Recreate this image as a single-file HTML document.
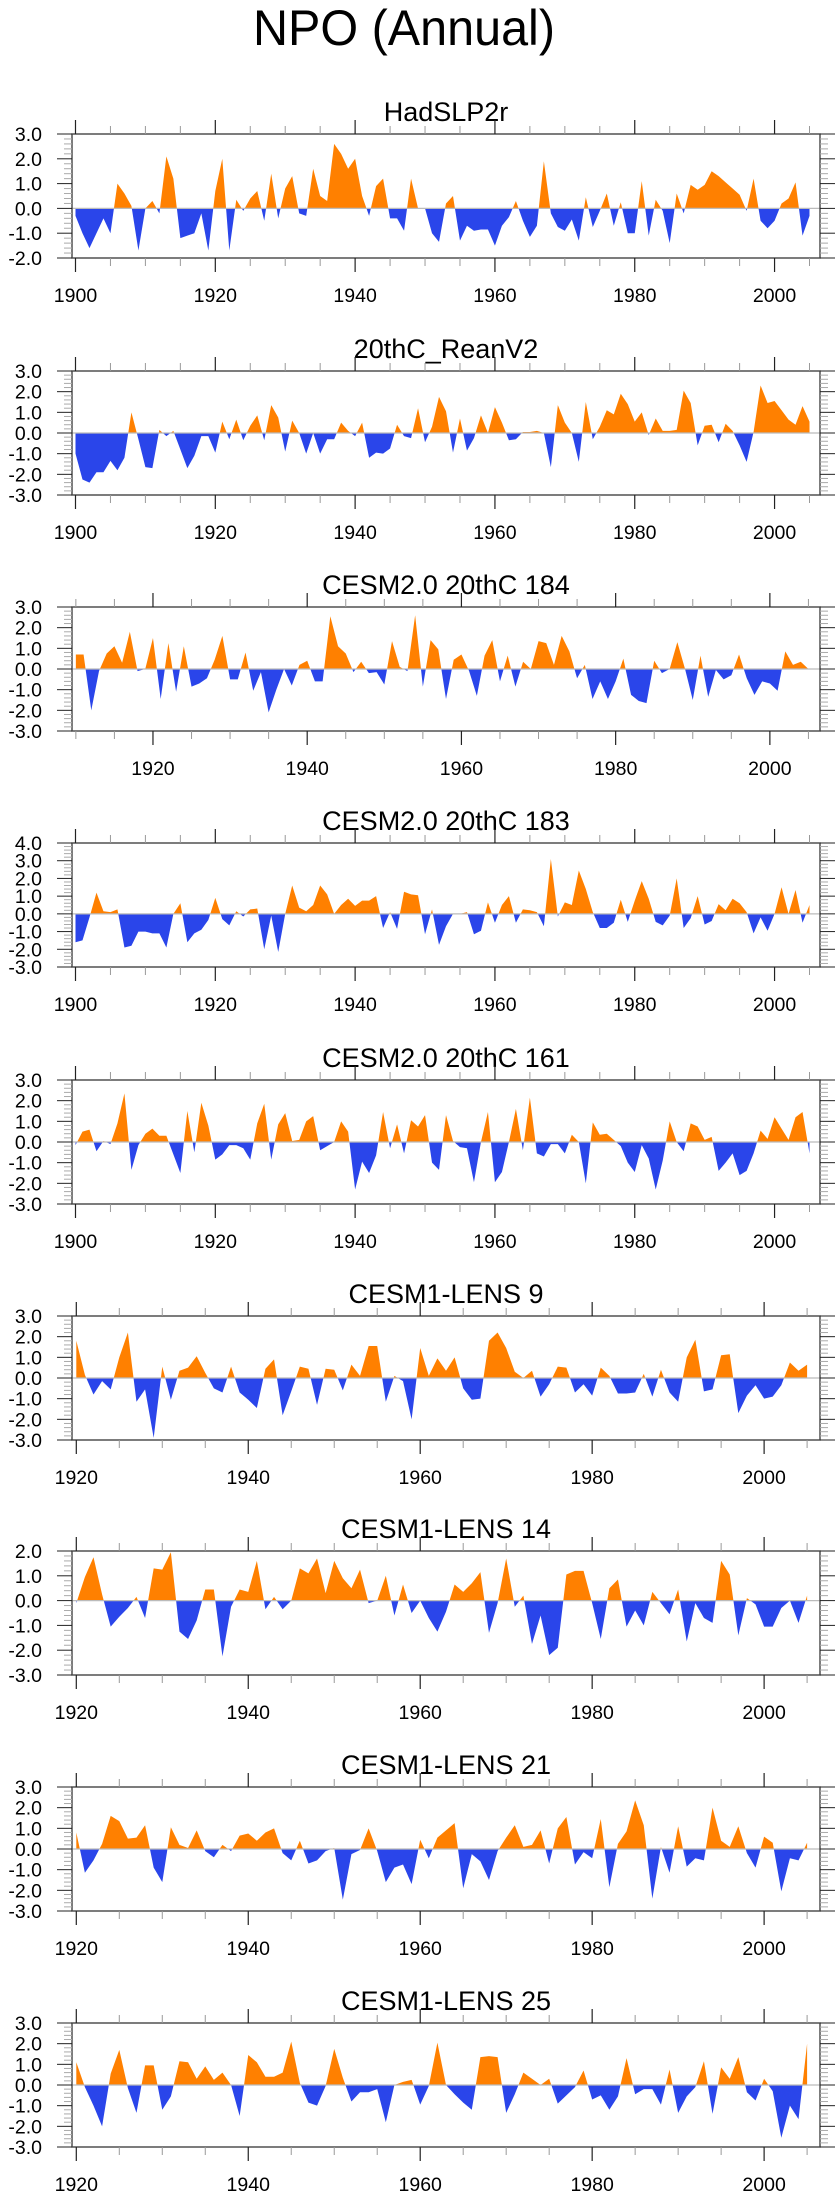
<!DOCTYPE html>
<html><head><meta charset="utf-8"><title>NPO (Annual)</title>
<style>html,body{margin:0;padding:0;background:#fff;}svg{display:block;font-family:"Liberation Sans",Arial,sans-serif;}</style>
</head><body>
<svg id="chart" width="840" height="2200" viewBox="0 0 840 2200" xmlns="http://www.w3.org/2000/svg">
<rect x="0" y="0" width="840" height="2200" fill="#fff"/>
<text x="404" y="45" font-size="50" text-anchor="middle" textLength="302" lengthAdjust="spacingAndGlyphs">NPO (Annual)</text>
</svg>
<script>
const titles = ["HadSLP2r","20thC_ReanV2","CESM2.0 20thC 184","CESM2.0 20thC 183","CESM2.0 20thC 161","CESM1-LENS 9","CESM1-LENS 14","CESM1-LENS 21","CESM1-LENS 25"];
const startYears = [1900,1900,1910,1900,1900,1920,1920,1920,1920];
const yMins = [-2,-3,-3,-3,-3,-3,-3,-3,-3];
const yMaxs = [3,3,3,4,3,3,2,3,3];
const xTickYears = [1900,1920,1940,1960,1980,2000];
const s1 = [-0.3,-1.0,-1.6,-1.0,-0.4,-1.0,1.0,0.6,0.1,-1.7, 0.0,0.3,-0.2,2.1,1.2,-1.2,-1.1,-1.0,-0.2,-1.7, 0.7,2.0,-1.7,0.35,-0.1,0.4,0.7,-0.5,1.4,-0.4, 0.8,1.3,-0.2,-0.3,1.6,0.5,0.3,2.6,2.2,1.6, 2.0,0.5,-0.3,0.9,1.2,-0.4,-0.4,-0.9,1.2,0.0, 0.0,-1.0,-1.35,0.2,0.5,-1.3,-0.7,-0.9,-0.85,-0.85, -1.5,-0.7,-0.35,0.3,-0.5,-1.15,-0.7,1.9,-0.2,-0.75, -0.9,-0.45,-1.3,0.45,-0.75,-0.1,0.6,-0.7,0.25,-1.0, -1.0,1.1,-1.1,0.35,-0.1,-1.4,0.6,-0.2,0.95,0.75, 0.95,1.5,1.3,1.05,0.8,0.55,-0.1,1.2,-0.5,-0.8, -0.5,0.2,0.4,1.05,-1.1,-0.3];
const s2 = [-1.0,-2.25,-2.4,-1.9,-1.9,-1.35,-1.8,-1.2,1.0,-0.3, -1.65,-1.7,0.15,-0.15,0.1,-0.8,-1.7,-1.1,-0.15,-0.15, -0.95,0.55,-0.3,0.65,-0.35,0.35,0.85,-0.35,1.35,0.75, -0.9,0.6,0,-1.0,0,-1.0,-0.3,-0.3,0.5,0.1, -0.15,0.5,-1.2,-0.95,-1.0,-0.75,0.4,-0.15,-0.25,1.2, -0.45,0.3,1.75,1.05,-0.95,0.7,-0.85,-0.25,0.85,0, 1.25,0.5,-0.35,-0.3,0.05,0.05,0.1,0,-1.65,1.35, 0.5,0,-1.4,1.5,-0.3,0.3,1.1,0.9,1.9,1.4, 0.55,1.0,-0.1,0.7,0.1,0.1,0.15,2.05,1.45,-0.6, 0.35,0.4,-0.45,0.45,0.1,-0.6,-1.4,0.05,2.3,1.45, 1.55,1.1,0.65,0.4,1.3,0.55];
const s3 = [0.7,0.7,-2.0,-0.1,0.75,1.1,0.3,1.8,-0.1,0, 1.5,-1.45,1.25,-1.1,1.1,-0.85,-0.7,-0.45,0.45,1.6, -0.5,-0.5,0.8,-1.05,-0.15,-2.1,-1.0,0,-0.8,0.2, 0.4,-0.6,-0.6,2.55,1.1,0.75,-0.15,0.35,-0.2,-0.15, -0.75,1.35,0.1,-0.1,2.6,-0.85,1.4,0.95,-1.45,0.45, 0.7,-0.1,-1.3,0.65,1.4,-0.6,0.65,-0.85,0.35,0, 1.35,1.25,0.2,1.6,0.85,-0.45,0.2,-1.45,-0.6,-1.45, -0.6,0.5,-1.25,-1.55,-1.65,0.4,-0.2,0,1.3,0, -1.5,0.65,-1.35,-0.05,-0.5,-0.3,0.7,-0.45,-1.25,-0.6, -0.7,-1.05,0.85,0.2,0.35,0];
const s4 = [-1.6,-1.5,-0.2,1.2,0.15,0.1,0.25,-1.9,-1.8,-1.0, -1.0,-1.1,-1.1,-1.9,0,0.6,-1.6,-1.1,-0.9,-0.35, 0.9,-0.3,-0.65,0.15,-0.15,0.25,0.3,-2.0,-0.1,-2.15, 0,1.6,0.35,0.15,0.5,1.6,1.1,0,0.5,0.85, 0.45,0.75,0.75,1.0,-0.8,0.1,-0.85,1.25,1.1,1.05, -1.15,0.25,-1.75,-0.7,0,0,0.1,-1.15,-0.95,0.65, -0.5,0.5,1.0,-0.5,0.25,0.2,0.1,-0.7,3.1,-0.15, 0.65,0.5,2.45,1.4,0.1,-0.8,-0.8,-0.5,0.8,-0.45, 0.75,1.85,0.85,-0.45,-0.65,-0.1,2.0,-0.8,-0.25,1.0, -0.6,-0.4,0.55,0.2,0.85,0.6,0.1,-1.1,-0.2,-0.95, 0,1.5,0,1.35,-0.5,0.5];
const s5 = [-0.15,0.5,0.6,-0.45,0.05,-0.1,0.9,2.35,-1.35,-0.15, 0.4,0.65,0.3,0.3,-0.6,-1.5,1.5,-0.5,1.9,0.8, -0.85,-0.6,-0.15,-0.15,-0.3,-0.85,0.9,1.85,-0.85,0.85, 1.4,0.05,0.1,1.0,1.25,-0.4,-0.2,0,1.0,0.5, -2.3,-0.95,-1.5,-0.65,1.45,-0.3,0.85,-0.55,1.05,0.75, 1.3,-1.0,-1.35,1.3,0.05,-0.25,-0.3,-1.95,0,1.45, -1.95,-1.45,0,1.6,-0.4,2.15,-0.55,-0.7,-0.1,-0.1, -0.55,0.35,0,-2.0,0.95,0.35,0.4,0.1,-0.2,-1.0, -1.45,-0.15,-0.8,-2.3,-0.9,1.0,0,-0.45,0.9,0.75, 0.1,0.25,-1.4,-1.0,-0.55,-1.6,-1.4,-0.55,0.55,0.15, 1.2,0.65,0.1,1.2,1.45,-0.55];
const s6 = [1.8,0.15,-0.8,-0.15,-0.55,1.0,2.2,-1.15,-0.55,-2.9, 0.55,-1.05,0.35,0.5,1.05,0.25,-0.5,-0.7,0.55,-0.7, -1.05,-1.45,0.45,0.9,-1.8,-0.65,0.55,0.45,-1.3,0.45, 0.4,-0.6,0.65,0.1,1.55,1.55,-1.15,0.1,-0.15,-2.0, 1.45,0.1,0.95,0.35,1.0,-0.5,-1.05,-1.0,1.8,2.2, 1.45,0.3,0,0.35,-0.9,-0.3,0.55,0.5,-0.7,-0.3, -0.85,0.5,0.1,-0.75,-0.75,-0.7,0.2,-0.9,0.4,-0.7, -1.15,1.0,1.85,-0.65,-0.55,1.1,1.15,-1.7,-0.85,-0.35, -1.0,-0.9,-0.35,0.75,0.35,0.65];
const s7 = [-0.1,0.95,1.75,0.25,-1.05,-0.65,-0.3,0.15,-0.7,1.3, 1.25,1.95,-1.25,-1.55,-0.8,0.45,0.45,-2.25,-0.25,0.45, 0.35,1.6,-0.35,0.15,-0.35,0,1.3,1.1,1.7,0.3, 1.6,0.9,0.5,1.25,-0.1,0,1.0,-0.6,0.65,-0.5, 0,-0.7,-1.25,-0.45,0.65,0.35,0.7,1.15,-1.3,-0.1, 1.7,-0.25,0.2,-1.75,-0.6,-2.2,-1.9,1.05,1.2,1.2, -0.1,-1.55,0.5,0.85,-1.05,-0.4,-1.0,0.35,-0.1,-0.55, 0.45,-1.65,-0.1,-0.7,-0.9,1.6,1.05,-1.4,0.1,-0.15, -1.05,-1.05,-0.3,0,-0.9,0.2];
const s8 = [0.8,-1.15,-0.55,0.25,1.6,1.35,0.5,0.55,1.15,-0.9, -1.6,1.05,0.2,0.05,0.9,-0.1,-0.4,0.2,-0.1,0.65, 0.75,0.4,0.8,1.0,-0.2,-0.55,0.4,-0.7,-0.55,-0.1, 0.05,-2.45,-0.25,-0.05,1.0,-0.1,-1.6,-0.9,-0.75,-1.7, 0.45,-0.45,0.55,0.9,1.25,-1.9,-0.25,-0.6,-1.5,-0.1, 0.55,1.15,0.1,0.2,0.9,-0.7,1.0,1.55,-0.75,-0.15, -0.45,1.45,-1.85,0.25,0.85,2.35,1.15,-2.4,0.1,-1.15, 1.1,-0.85,-0.45,-0.55,2.0,0.4,0.1,1.1,-0.2,-0.9, 0.6,0.3,-2.05,-0.45,-0.55,0.3];
const s9 = [1.1,-0.1,-1.0,-2.0,0.55,1.7,-0.15,-1.35,0.95,0.95, -1.2,-0.55,1.15,1.1,0.3,0.9,0.25,0.6,0,-1.5, 1.45,1.1,0.4,0.4,0.6,2.1,0.1,-0.85,-1.0,-0.05, 1.75,0.35,-0.8,-0.35,-0.35,-0.2,-1.8,0,0.15,0.25, -0.95,-0.05,2.05,0,-0.45,-0.85,-1.2,1.35,1.4,1.35, -1.35,-0.45,0.6,0.3,0,0.3,-0.9,-0.5,-0.1,0.7, -0.7,-0.5,-1.2,-0.55,1.3,-0.45,-0.2,-0.2,-0.95,0.75, -1.35,-0.55,-0.1,1.15,-1.4,0.85,0.3,1.35,-0.35,-0.75, 0.3,-0.3,-2.55,-1.0,-1.65,2.0];
const seriesList = [s1,s2,s3,s4,s5,s6,s7,s8,s9];

const NS = "http://www.w3.org/2000/svg";
const svg = document.getElementById("chart");
const boxTops = [134,371,607,843,1080,1316,1551,1787,2023];
const BOX_L = 72, BOX_R = 820, BOX_H = 124;
const ORANGE = "#ff8000", BLUE = "#2a45ea";
function mk(tag, attrs, parent){ const e = document.createElementNS(NS, tag); for (const k in attrs) e.setAttribute(k, attrs[k]); (parent||svg).appendChild(e); return e; }

seriesList.forEach((vals, p) => {
  const top = boxTops[p], bot = top + BOX_H;
  const x0 = startYears[p] - 0.5, x1 = 2006.5;
  const ymin = yMins[p], ymax = yMaxs[p];
  const xs = yr => BOX_L + (yr - x0) / (x1 - x0) * (BOX_R - BOX_L);
  const ys = v => bot - (v - ymin) / (ymax - ymin) * BOX_H;
  const g = mk("g", {});
  
  

  const t = mk("text", {x: (BOX_L+BOX_R)/2, y: top - 13, "font-size": 27, "text-anchor": "middle", fill: "#000"}, g);
  t.textContent = titles[p];
  
  

  const z = ys(0);
  let d = "M" + xs(startYears[p]).toFixed(2) + "," + z.toFixed(2);
  vals.forEach((v, i) => { d += " L" + xs(startYears[p] + i).toFixed(2) + "," + ys(v).toFixed(2); });
  d += " L" + xs(startYears[p] + vals.length - 1).toFixed(2) + "," + z.toFixed(2) + " Z";
  const cidA = "ca" + p, cidB = "cb" + p;
  const defs = mk("defs", {}, g);
  const cpA = mk("clipPath", {id: cidA}, defs); mk("rect", {x: BOX_L, y: top, width: BOX_R-BOX_L, height: z-top}, cpA);
  const cpB = mk("clipPath", {id: cidB}, defs); mk("rect", {x: BOX_L, y: z, width: BOX_R-BOX_L, height: bot-z}, cpB);
  const pa = mk("path", {d: d, fill: ORANGE, "clip-path": "url(#"+cidA+")"}, g);
  
  
  const pb = mk("path", {d: d, fill: BLUE, "clip-path": "url(#"+cidB+")"}, g);
  
  
  const zl = mk("line", {x1: BOX_L, x2: BOX_R, y1: z, y2: z, stroke: "#bbb", "stroke-width": 1.2}, g);
  
  

  const box = mk("rect", {x: BOX_L, y: top, width: BOX_R-BOX_L, height: BOX_H, fill: "none", stroke: "#444", "stroke-width": 1.4}, g);
  
  

  // x ticks
  for (let yr = Math.ceil(x0/5)*5; yr <= x1; yr += 5) {
    const major = yr % 20 === 0, L = major ? 14 : 8, X = xs(yr);
    mk("line", {x1: X, x2: X, y1: top, y2: top - L, stroke: major ? "#222" : "#999", "stroke-width": major ? 1.2 : 1}, g);
    mk("line", {x1: X, x2: X, y1: bot, y2: bot + L, stroke: major ? "#222" : "#999", "stroke-width": major ? 1.2 : 1}, g);
  }
  xTickYears.forEach(yr => {
    if (yr < x0 || yr > x1) return;
    const lt = mk("text", {x: xs(yr), y: bot + 44, "font-size": 19.5, "text-anchor": "middle", fill: "#000"}, g);
    lt.textContent = String(yr);
    
    
  });
  // y ticks
  for (let k = Math.round(ymin*5); k <= Math.round(ymax*5); k++) {
    const v = k/5, major = k % 5 === 0, L = major ? 15 : 8, Y = ys(v);
    const c = major ? "#222" : "#aaa";
    mk("line", {x1: BOX_L, x2: BOX_L - L, y1: Y, y2: Y, stroke: c, "stroke-width": 1}, g);
    mk("line", {x1: BOX_R, x2: BOX_R + L, y1: Y, y2: Y, stroke: c, "stroke-width": 1}, g);
    if (major) {
      const yl = mk("text", {x: 42, y: Y + 7, "font-size": 19.5, "text-anchor": "end", fill: "#000"}, g);
      yl.textContent = v.toFixed(1);
      
      
    }
  }
});
</script>
</body></html>
